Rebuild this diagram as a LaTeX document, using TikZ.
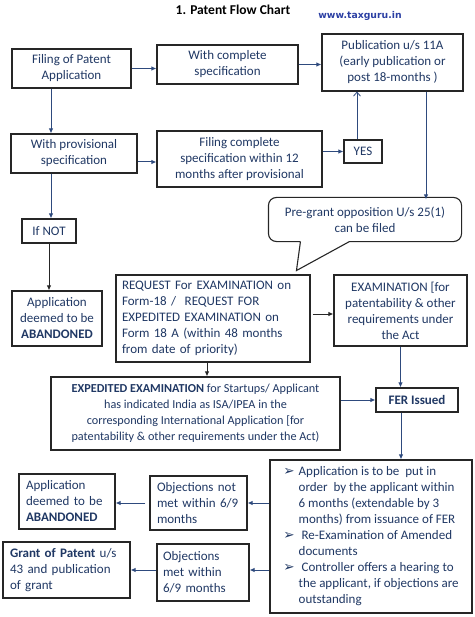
\documentclass[tikz,border=0pt]{standalone}
\usepackage{fontspec}
\setmainfont{Carlito}
\newfontfamily\dejavu{DejaVu Sans}
\newfontfamily\webfont{DejaVu Sans}
\usetikzlibrary{arrows.meta,calc}
\definecolor{navy}{HTML}{203864}
\definecolor{linkblue}{HTML}{2B3FA3}
\definecolor{connblue}{HTML}{2E4A7D}
\definecolor{boxline}{HTML}{262626}
\newcommand{\bul}{{\dejavu\fontsize{13.5}{16}\selectfont ➢}}
\tikzset{
  box/.style={draw=boxline, line width=1.1pt, fill=white, text=navy, inner sep=0pt,
    font=\fontsize{13}{16}\selectfont, align=center},
  lbox/.style={box, align=left},
  conn/.style={draw=connblue, line width=1pt, -{Latex[length=5pt,width=4.5pt]}},
  kconn/.style={draw=boxline, line width=1pt, -{Latex[length=5pt,width=4.5pt]}},
  openconn/.style={draw=connblue, line width=0.8pt, -{Straight Barb[length=4pt,width=7pt]}},
}
\begin{document}
\begin{tikzpicture}[x=1pt,y=-1pt]
\useasboundingbox (0,0) rectangle (474,617);

\node[font=\bfseries\fontsize{13.5}{15}\selectfont, text=black] (title) at (233,10) {1. Patent Flow Chart};
\node[font=\webfont\bfseries\fontsize{9.3}{11}\selectfont, text=linkblue] (web) at (360,16) {www.taxguru.in};

\node[box, minimum width=119pt, minimum height=39pt] (filing) at (71.5,68.5) {Filing of Patent\\Application};
\node[box, minimum width=141pt, minimum height=39pt] (withc) at (227.5,64.5) {With complete\\specification};
\node[box, minimum width=141pt, minimum height=57pt] (pub) at (392.5,62.5) {Publication u/s 11A\\(early publication or\\post 18-months )};
\node[box, minimum width=126pt, minimum height=39pt] (prov) at (74,153.5) {With provisional\\specification};
\node[box, minimum width=165pt, minimum height=56pt] (fcs) at (239.5,159) {Filing complete\\specification within 12\\months after provisional};
\node[box, minimum width=38pt, minimum height=23pt] (yes) at (363,151.5) {YES};

\node[box, draw=none, fill=none, minimum width=192pt, minimum height=43pt] (callout) at (365,219.5) {Pre-grant opposition U/s 25(1)\\can be filed};
\draw[boxline, line width=1.1pt]
  ([xshift=32pt]callout.south west) -- ([xshift=28pt,yshift=-29pt]callout.south west) -- ([xshift=81pt]callout.south west)
  [rounded corners=8pt] -- (callout.south east) -- (callout.north east) -- (callout.north west) -- (callout.south west) [sharp corners] -- ([xshift=32pt]callout.south west);

\node[box, minimum width=54pt, minimum height=24pt] (ifnot) at (49,231) {If NOT};
\node[box, minimum width=90pt, minimum height=55pt] (aband1) at (57,318.5) {Application\\deemed to be\\\textbf{ABANDONED}};
\node[lbox, minimum width=194pt, minimum height=87pt, text width=182pt] (req) at (213,318.5) {\mbox{REQUEST For EXAMINATION on}\\Form-18 /\ \ REQUEST FOR\\\mbox{EXPEDITED EXAMINATION on}\\\mbox{Form 18 A (within 48 months}\\from date of priority)};
\node[box, minimum width=133pt, minimum height=71pt] (exam) at (400.5,310.5) {EXAMINATION [for\\patentability \& other\\requirements under\\the Act};
\node[box, minimum width=82pt, minimum height=24pt] (fer) at (417,400) {\textbf{FER Issued}};
\node[box, minimum width=289pt, minimum height=73pt, font=\fontsize{12.2}{16}\selectfont] (exped) at (195.5,413.5) {\textbf{EXPEDITED EXAMINATION} for Startups/ Applicant\\has indicated India as ISA/IPEA in the\\corresponding International Application [for\\patentability \& other requirements under the Act)};

\node[box, minimum width=202pt, minimum height=153pt] (bullets) at (371,536.5) {%
\begin{tabular}{@{}l@{\hspace{4pt}}l@{}}
\bul & Application is to be\ \ put in\\
 & order\ \ by the applicant within\\
 & 6 months (extendable by 3\\
 & months) from issuance of FER\\
\bul & \ Re-Examination of Amended\\
 & documents\\
\bul & \ Controller offers a hearing to\\
 & the applicant, if objections are\\
 & outstanding
\end{tabular}};

\node[lbox, minimum width=97pt, minimum height=54pt, text width=83pt] (notmet) at (198.5,503) {\mbox{Objections not}\\\mbox{met within 6/9}\\months};
\node[lbox, minimum width=96pt, minimum height=55pt, text width=82pt] (aband2) at (67,501.5) {Application\\\mbox{deemed to be}\\\textbf{ABANDONED}};
\node[lbox, minimum width=92pt, minimum height=57pt, text width=80pt] (met) at (203,572.5) {Objections\\met within\\6/9 months};
\node[lbox, minimum width=127pt, minimum height=56pt, text width=113pt] (grant) at (66.5,570) {\mbox{\textbf{Grant of Patent} u/s}\\\mbox{43 and publication}\\of grant};

% connectors
\draw[conn] (filing.east) -- (filing.east -| withc.west);
\draw[conn] (withc.east) -- (withc.east -| pub.west);
\draw[conn] ([xshift=-20.5pt]filing.south) -- ([xshift=-20.5pt]filing.south |- prov.north);
\draw[conn] ([yshift=-8.5pt]prov.east) -- ([yshift=-8.5pt]prov.east -| fcs.west);
\draw[conn] (yes.west -| fcs.east) -- (yes.west);
\draw[openconn] ([xshift=-6pt]yes.north) -- ([xshift=-6pt]yes.north |- pub.south);
\draw[conn] ([xshift=33.5pt]pub.south) -- ([xshift=33.5pt,yshift=-2pt]pub.south |- callout.north);
\draw[conn] ([xshift=-23pt]prov.south) -- ([xshift=-23pt]prov.south |- ifnot.north);
\draw[kconn] (ifnot.south) -- (ifnot.south |- aband1.north);
\draw[kconn] ([yshift=4.5pt,xshift=2pt]req.east) -- ([yshift=4.5pt]req.east -| exam.west);
\draw[conn] (exam.south) -- (exam.south |- fer.north);
\draw[kconn] ([xshift=-6pt]req.south) -- ([xshift=-6pt]req.south |- exped.north);
\draw[conn] (fer.west -| exped.east) -- (fer.west);
\draw[conn] ([xshift=-16pt]fer.south) -- ([xshift=-16pt]fer.south |- bullets.north);
\draw[conn] (bullets.west |- notmet.east) -- (notmet.east);
\draw[conn, shorten <=4pt] (notmet.west) -- (notmet.west -| aband2.east);
\draw[conn] ([yshift=2.5pt]bullets.west |- met.east) -- ([yshift=2.5pt]met.east);
\draw[conn] ([yshift=2.5pt]met.west) -- ([yshift=2.5pt]met.west -| grant.east);
\end{tikzpicture}
\end{document}
